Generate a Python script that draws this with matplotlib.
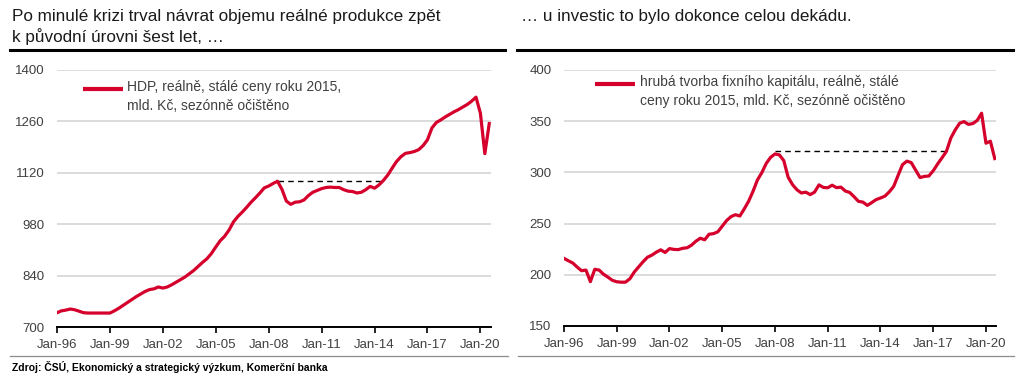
import matplotlib
matplotlib.use('Agg')
import matplotlib.pyplot as plt
from matplotlib.lines import Line2D
import numpy as np

plt.rcParams.update({
    'font.family': ['Liberation Sans', 'DejaVu Sans'],
    'font.size': 9.5,
    'axes.linewidth': 1.4,
})

RED = '#d5002b'
GRID = '#d9d9d9'
TXT = '#404040'

# quarterly data, 1996Q1 .. 2020Q3 (mld. Kč, stálé ceny 2015, s.a.)
hdp = [
    739, 744, 746, 749,       # 1996
    747, 743, 739, 738,       # 1997
    738, 738, 738, 738,       # 1998
    738, 744, 751, 759,       # 1999
    767, 775, 783, 790,       # 2000
    797, 802, 804, 809,       # 2001
    806, 809, 815, 822,       # 2002
    829, 836, 845, 854,       # 2003
    865, 876, 886, 900,       # 2004
    918, 935, 947, 964,       # 2005
    986, 1001, 1013, 1026,    # 2006
    1040, 1052, 1065, 1079,   # 2007
    1084, 1091, 1097, 1075,   # 2008
    1043, 1034, 1040, 1041,   # 2009
    1046, 1058, 1067, 1072,   # 2010
    1077, 1080, 1081, 1080,   # 2011
    1080, 1074, 1070, 1069,   # 2012
    1065, 1067, 1074, 1083,   # 2013
    1078, 1087, 1099, 1114,   # 2014
    1133, 1151, 1164, 1173,   # 2015
    1175, 1178, 1183, 1194,   # 2016
    1210, 1242, 1257, 1264,   # 2017
    1272, 1279, 1286, 1292,   # 2018
    1299, 1306, 1315, 1326,   # 2019
    1282, 1172, 1254,         # 2020
]

investice = [
    216.0, 213.7, 211.5, 207.5,   # 1996
    204.0, 204.6, 193.3, 205.4,   # 1997
    204.6, 200.5, 197.7, 194.6,   # 1998
    193.2, 192.8, 192.8, 196.2,   # 1999
    202.8, 207.8, 212.8, 217.2,   # 2000
    219.2, 222.1, 224.4, 221.8,   # 2001
    225.6, 224.8, 224.6, 225.9,   # 2002
    226.4, 228.9, 232.8, 235.7,   # 2003
    234.2, 239.6, 240.2, 242.0,   # 2004
    247.5, 253.0, 256.8, 258.7,   # 2005
    257.4, 264.3, 271.8, 281.5,   # 2006
    292.6, 299.7, 308.7, 314.7,   # 2007
    318.0, 317.1, 311.5, 295.2,   # 2008
    288.0, 283.0, 279.9, 280.7,   # 2009
    278.3, 280.7, 287.8, 285.3,   # 2010
    285.0, 287.5, 285.1, 285.6,   # 2011
    281.8, 280.4, 276.2, 271.7,   # 2012
    271.0, 267.8, 270.5, 273.4,   # 2013
    275.0, 276.8, 281.0, 286.3,   # 2014
    297.0, 307.5, 311.0, 309.6,   # 2015
    302.2, 295.0, 296.1, 296.5,   # 2016
    301.6, 308.2, 314.3, 320.5,   # 2017
    333.5, 341.5, 348.0, 349.6,   # 2018
    346.9, 347.7, 350.7, 357.8,   # 2019
    328.5, 330.5, 313.5,          # 2020
]

t = 1996 + np.arange(len(hdp)) / 4.0

tick_years = [1996, 1999, 2002, 2005, 2008, 2011, 2014, 2017, 2020]
tick_labels = ['Jan-96', 'Jan-99', 'Jan-02', 'Jan-05', 'Jan-08',
               'Jan-11', 'Jan-14', 'Jan-17', 'Jan-20']

# previous peak reference lines (start, end, level)
hdp_peak = (2008.5, 2014.5, 1097)
inv_peak = (2008.0, 2017.75, 320.5)

left_title = 'Po minulé krizi trval návrat objemu reálné produkce zpět\nk původní úrovni šest let, …'
right_title = '… u investic to bylo dokonce celou dekádu.'
left_legend = 'HDP, reálně, stálé ceny roku 2015,\nmld. Kč, sezónně očištěno'
right_legend = 'hrubá tvorba fixního kapitálu, reálně, stálé\nceny roku 2015, mld. Kč, sezónně očištěno'
source = 'Zdroj: ČSÚ, Ekonomický a strategický výzkum, Komerční banka'

W, H = 1024, 377
fig = plt.figure(figsize=(W / 100, H / 100), dpi=100)


def px(x0, y0, x1, y1):
    return [x0 / W, 1 - y1 / H, (x1 - x0) / W, (y1 - y0) / H]


def style(ax, ylim, yticks, xmax):
    ax.set_xlim(1996, xmax)
    ax.set_ylim(*ylim)
    ax.set_yticks(yticks)
    ax.set_xticks(tick_years)
    ax.set_xticklabels(tick_labels)
    for s in ['top', 'right', 'left']:
        ax.spines[s].set_visible(False)
    ax.spines['bottom'].set_color('black')
    ax.grid(axis='y', color=GRID, linewidth=1.3)
    ax.set_axisbelow(True)
    ax.tick_params(axis='y', length=0, pad=9, colors=TXT, labelsize=9.5)
    ax.tick_params(axis='x', length=4.5, width=1.2, direction='out', pad=4,
                   colors='black', labelcolor=TXT, labelsize=9.5)


# left panel: HDP
ax1 = fig.add_axes(px(57, 70, 491, 327))
ax1.plot(t, hdp, color=RED, lw=2.3, solid_joinstyle='round', zorder=3)
ax1.hlines(hdp_peak[2], hdp_peak[0], hdp_peak[1], colors='black',
           linestyles=(0, (4, 3)), lw=1.0, zorder=2)
style(ax1, (700, 1400), np.arange(700, 1401, 140), 2020.6)
ax1.plot([0.060, 0.152], [0.926, 0.926], color=RED, lw=3, transform=ax1.transAxes,
         solid_capstyle='butt')
ax1.text(0.161, 0.960, left_legend, transform=ax1.transAxes, va='top', ha='left',
         fontsize=10, color=TXT, linespacing=1.42)

# right panel: investice
ax2 = fig.add_axes(px(564, 70, 996, 326))
ax2.plot(t, investice, color=RED, lw=2.3, solid_joinstyle='round', zorder=3)
ax2.hlines(inv_peak[2], inv_peak[0], inv_peak[1], colors='black',
           linestyles=(0, (4, 3)), lw=1.0, zorder=2)
style(ax2, (150, 400), np.arange(150, 401, 50), 2020.57)
ax2.plot([0.072, 0.164], [0.946, 0.946], color=RED, lw=3, transform=ax2.transAxes,
         solid_capstyle='butt')
ax2.text(0.176, 0.980, right_legend, transform=ax2.transAxes, va='top', ha='left',
         fontsize=10, color=TXT, linespacing=1.42)

# titles and separators
fig.text(12 / W, 1 - 9 / H, left_title, va='top', ha='left', fontsize=12.3,
         color='#1a1a1a', linespacing=1.3)
fig.text(521 / W, 1 - 9 / H, right_title, va='top', ha='left', fontsize=12.3,
         color='#1a1a1a')
for x0, x1 in [(10, 505), (517, 1013)]:
    fig.add_artist(Line2D([x0 / W, x1 / W], [1 - 50 / H] * 2, color='black', lw=2.2))
for x0, x1 in [(10, 508), (518, 1014)]:
    fig.add_artist(Line2D([x0 / W, x1 / W], [1 - 356 / H] * 2, color='#8c8c8c', lw=0.9))

fig.text(12 / W, 1 - 367 / H, source, va='center', ha='left', fontsize=7.5,
         fontweight='bold', color='black')

fig.savefig('out.png', dpi=100)
